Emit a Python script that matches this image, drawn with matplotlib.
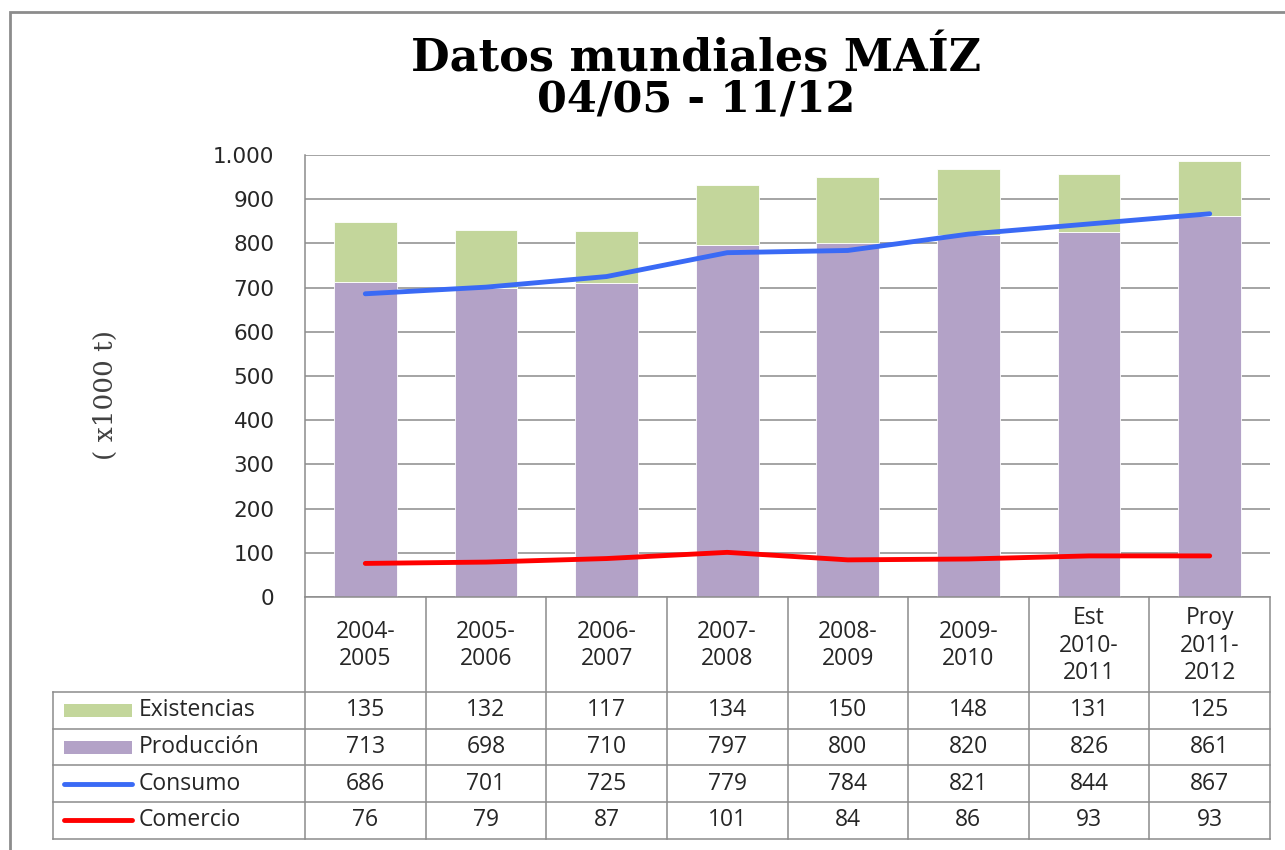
import matplotlib.pyplot as plt
import numpy as np
from matplotlib.patches import Rectangle

# Datos (x1000 t)
categorias = ['2004-\n2005', '2005-\n2006', '2006-\n2007', '2007-\n2008',
              '2008-\n2009', '2009-\n2010', 'Est\n2010-\n2011', 'Proy\n2011-\n2012']
existencias = [135, 132, 117, 134, 150, 148, 131, 125]
produccion = [713, 698, 710, 797, 800, 820, 826, 861]
consumo = [686, 701, 725, 779, 784, 821, 844, 867]
comercio = [76, 79, 87, 101, 84, 86, 93, 93]
yticks = [0, 100, 200, 300, 400, 500, 600, 700, 800, 900, 1000]
ytick_labels = ['0', '100', '200', '300', '400', '500', '600', '700', '800', '900', '1.000']

# Colores
verde = '#C3D69B'
morado = '#B3A2C7'
azul = '#3A6AF5'
rojo = '#FF0000'
gris = '#8C8C8C'
texto = '#262626'

W, H = 1285, 850
fig = plt.figure(figsize=(W / 100, H / 100), dpi=100)


def caja(x0, y0, x1, y1):
    # convierte pixeles (origen arriba-izquierda) a coordenadas de figura
    return [x0 / W, 1 - y1 / H, (x1 - x0) / W, (y1 - y0) / H]


# Marco exterior
fig.add_artist(Rectangle((10 / W, -0.01), (W + 20) / W, (H - 12) / H + 0.01,
                         transform=fig.transFigure, fill=False, ec=gris, lw=2))

# Grafico principal
ax = fig.add_axes(caja(305, 155, 1270, 597))
x = np.arange(len(categorias))
ancho = 0.52
ax.bar(x, produccion, ancho, color=morado, edgecolor='white', lw=0.6, zorder=2)
ax.bar(x, existencias, ancho, bottom=produccion, color=verde, edgecolor='white', lw=0.6, zorder=2)
ax.plot(x, consumo, color=azul, lw=3.5, zorder=3, solid_capstyle='round')
ax.plot(x, comercio, color=rojo, lw=3.5, zorder=3, solid_capstyle='round')

ax.set_xlim(-0.5, len(categorias) - 0.5)
ax.set_ylim(0, 1000)
ax.set_yticks(yticks, ytick_labels)
ax.set_xticks([])
ax.yaxis.grid(True, color=gris, lw=1.1)
ax.set_axisbelow(True)
for s in ['top', 'right', 'bottom']:
    ax.spines[s].set_visible(False)
ax.spines['left'].set_color(gris)
ax.spines['left'].set_linewidth(1.1)
ax.tick_params(axis='y', length=0, pad=22, labelsize=15.5, labelcolor=texto)

# Tabla de datos
paso = 120.625
xmin = -0.5 - (305 - 53) / paso
tab = fig.add_axes(caja(53, 597, 1270, 839))
tab.set_xlim(xmin, len(categorias) - 0.5)
tab.set_ylim(242, 0)
tab.axis('off')

alto_cab = 95
alto_fila = 36.7
filas = [('Existencias', existencias, 'bar', verde),
         ('Producción', produccion, 'bar', morado),
         ('Consumo', consumo, 'line', azul),
         ('Comercio', comercio, 'line', rojo)]

kw_lin = dict(color=gris, lw=1.1, clip_on=False)
tab.plot([-0.5, len(categorias) - 0.5], [0, 0], **kw_lin)
for i in range(len(filas) + 1):
    yy = alto_cab + alto_fila * i
    tab.plot([xmin, len(categorias) - 0.5], [yy, yy], **kw_lin)
for k in range(len(categorias) + 1):
    tab.plot([k - 0.5, k - 0.5], [0, alto_cab + alto_fila * len(filas)], **kw_lin)
tab.plot([xmin, xmin], [alto_cab, alto_cab + alto_fila * len(filas)], **kw_lin)

fuente_tabla = dict(family='Open Sans', size=16.5, color=texto)
for i, c in enumerate(categorias):
    tab.text(i, alto_cab / 2 + 1, c, ha='center', va='center', linespacing=1.2, **fuente_tabla)

for r, (nombre, valores, tipo, col) in enumerate(filas):
    yc = alto_cab + alto_fila * (r + 0.5)
    for i, v in enumerate(valores):
        tab.text(i, yc, str(v), ha='center', va='center', **fuente_tabla)
    x0 = xmin + (64 - 53) / paso
    x1 = xmin + (132 - 53) / paso
    if tipo == 'bar':
        tab.add_patch(Rectangle((x0, yc - 6.5), x1 - x0, 13, color=col, lw=0))
    else:
        tab.plot([x0, x1], [yc, yc], color=col, lw=3.5, solid_capstyle='round')
    tab.text(xmin + (139 - 53) / paso, yc, nombre, ha='left', va='center', **fuente_tabla)

# Etiqueta del eje Y
fig.text(105 / W, 1 - 395 / H, '( x1000 t)', rotation=90, ha='center', va='center',
         family='DejaVu Serif', size=19, color='#404040')

# Titulo
fig.text(696 / W, 1 - 72 / H, 'Datos mundiales MAÍZ', ha='center', va='baseline',
         family='DejaVu Serif', weight='bold', size=32, color='black')
fig.text(696 / W, 1 - 112 / H, '04/05 - 11/12', ha='center', va='baseline',
         family='DejaVu Serif', weight='bold', size=31, color='black')

fig.savefig('out.png', dpi=100)
